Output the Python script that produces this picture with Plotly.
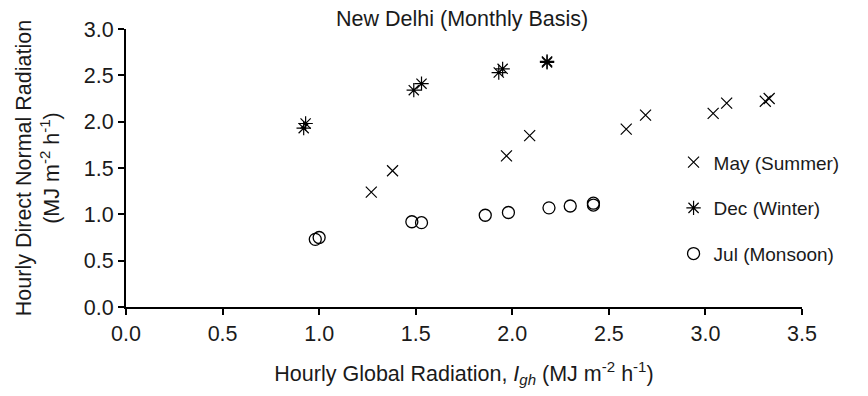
import plotly.graph_objects as go

may_x = [1.27, 1.38, 1.97, 2.09, 2.59, 2.69, 3.04, 3.11, 3.31, 3.33]
may_y = [1.24, 1.47, 1.63, 1.85, 1.92, 2.07, 2.09, 2.20, 2.22, 2.25]

dec_x = [0.92, 0.93, 1.49, 1.53, 1.93, 1.95, 2.18, 2.18]
dec_y = [1.93, 1.98, 2.34, 2.41, 2.53, 2.57, 2.64, 2.65]

jul_x = [0.98, 1.00, 1.48, 1.53, 1.86, 1.98, 2.19, 2.30, 2.42, 2.42]
jul_y = [0.73, 0.75, 0.92, 0.91, 0.99, 1.02, 1.07, 1.09, 1.12, 1.10]

x_ticks = [0.0, 0.5, 1.0, 1.5, 2.0, 2.5, 3.0, 3.5]
y_ticks = [0.0, 0.5, 1.0, 1.5, 2.0, 2.5, 3.0]

FONT = "Liberation Sans, Arial, sans-serif"
FS = 21.5

fig = go.Figure()
fig.add_trace(go.Scatter(x=may_x, y=may_y, mode="markers", name="May (Summer)",
                         legendgroup="a",
                         marker=dict(symbol="x-thin-open", size=11, color="black",
                                     line=dict(color="black", width=1.2))))
fig.add_trace(go.Scatter(x=dec_x, y=dec_y, mode="markers", name="Dec (Winter)",
                         legendgroup="b",
                         marker=dict(symbol="asterisk-open", size=12, color="black",
                                     line=dict(color="black", width=1.2))))
fig.add_trace(go.Scatter(x=jul_x, y=jul_y, mode="markers", name="Jul (Monsoon)",
                         legendgroup="c",
                         marker=dict(symbol="circle-open", size=12, color="black",
                                     line=dict(color="black", width=1.3))))

fig.update_layout(
    width=860, height=388,
    margin=dict(l=118, r=66, t=21, b=89),
    plot_bgcolor="white", paper_bgcolor="white",
    font=dict(family=FONT, size=FS, color="#1a1a1a"),
    title=dict(text="New Delhi (Monthly Basis)", x=0.528, xanchor="center",
               y=0.972, yanchor="middle", font=dict(family=FONT, size=FS)),
    legend=dict(x=0.81, xanchor="left", y=0.355, yanchor="middle",
                bgcolor="rgba(0,0,0,0)", font=dict(family=FONT, size=19),
                tracegroupgap=18, traceorder="grouped"),
    xaxis=dict(range=[0, 3.5], tickvals=x_ticks, ticktext=[f"{v:.1f}" for v in x_ticks],
               automargin=False,
               showgrid=False, zeroline=False, showline=True, linecolor="black",
               linewidth=2, ticks="outside", ticklen=6, tickwidth=2, tickcolor="black",
               tickfont=dict(family=FONT, size=FS),
               title=dict(text="Hourly Global Radiation, <i>I<sub>gh</sub></i> (MJ m<sup>-2</sup> h<sup>-1</sup>)",
                          standoff=21, font=dict(family=FONT, size=FS))),
    yaxis=dict(range=[0, 3.0], tickvals=y_ticks, ticktext=[f"{v:.1f}" for v in y_ticks],
               automargin=False,
               showgrid=False, zeroline=False, showline=True, linecolor="black",
               linewidth=2, ticks="outside", ticklen=6, tickwidth=2, tickcolor="black",
               tickfont=dict(family=FONT, size=FS),
               title=dict(text="Hourly Direct Normal Radiation<br>(MJ m<sup>-2</sup> h<sup>-1</sup>)",
                          standoff=18, font=dict(family=FONT, size=FS))),
)

fig.write_html("out.html")
